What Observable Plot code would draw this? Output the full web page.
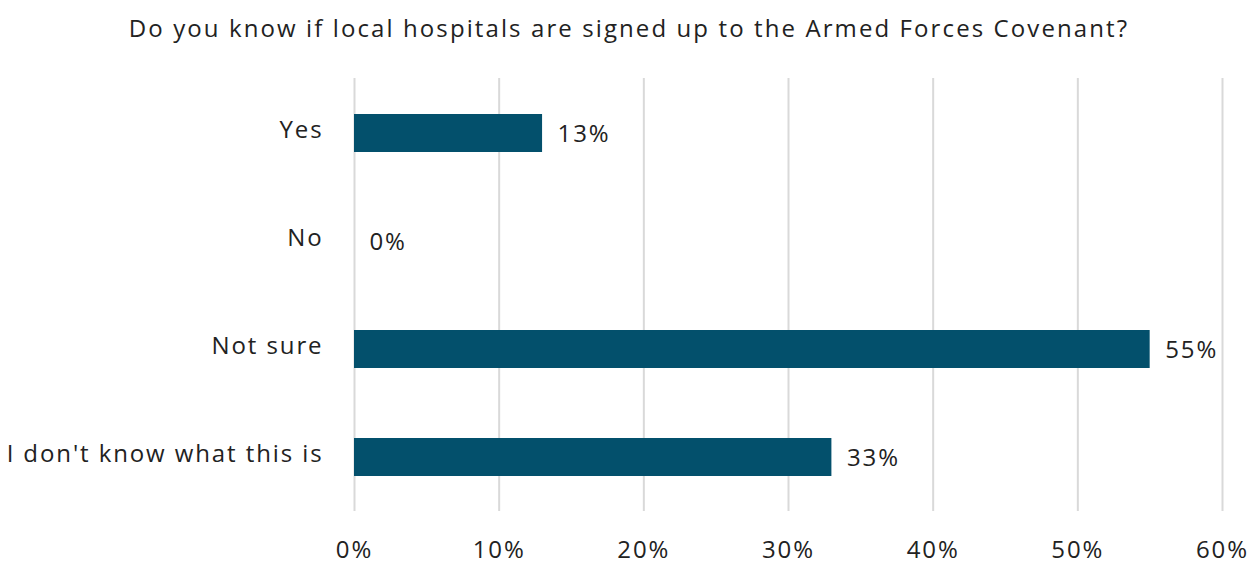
<!DOCTYPE html>
<html>
<head>
<meta charset="utf-8">
<script src="https://cdn.jsdelivr.net/npm/d3@7"></script>
<script src="https://cdn.jsdelivr.net/npm/@observablehq/plot@0.6"></script>
<style>
  body { margin: 0; background: #fff; font-family: "Open Sans", sans-serif; }
  #title { height: 56px; line-height: 56px; text-align: center; font-size: 24px; letter-spacing: 2.1px; color: #222; width: 1258px; white-space: nowrap; }
  #chart svg { display: block; overflow: visible; }
  #chart svg text { letter-spacing: 1.9px; }
</style>
</head>
<body>
<div id="title">Do you know if local hospitals are signed up to the Armed Forces Covenant?</div>
<div id="chart"></div>
<script>
const categories = ["Yes", "No", "Not sure", "I don't know what this is"];
const values = [13, 0, 55, 33];
const xTicks = [0, 10, 20, 30, 40, 50, 60];

const data = categories.map((c, i) => ({category: c, value: values[i]}));

const chart = Plot.plot({
  width: 1258,
  height: 509,
  marginLeft: 354,
  marginRight: 36,
  marginTop: 22,
  marginBottom: 54,
  style: {fontFamily: "'Open Sans', sans-serif", fontSize: "24px", color: "#222", background: "#fff"},
  x: {domain: [0, 60], ticks: xTicks, tickFormat: d => d + "%", label: null},
  y: {domain: categories, padding: 0, label: null},
  marks: [
    Plot.gridX(xTicks, {stroke: "#d9d9d9", strokeOpacity: 1, strokeWidth: 2}),
    Plot.axisX(xTicks, {tickSize: 0, tickPadding: 29, tickFormat: d => d + "%", fontSize: 24, fill: "#222", label: null}),
    Plot.axisY({tickSize: 0, tickPadding: 31, fontSize: 24, fill: "#222", label: null, dy: -3}),
    Plot.barX(data, {x: "value", y: "category", fill: "#03506c", insetTop: 35, insetBottom: 35}),
    Plot.text(data, {x: "value", y: "category", text: d => d.value + "%", textAnchor: "start", dx: 15, dy: 1, fontSize: 24, fill: "#222"})
  ]
});
document.getElementById("chart").appendChild(chart);
</script>
</body>
</html>
